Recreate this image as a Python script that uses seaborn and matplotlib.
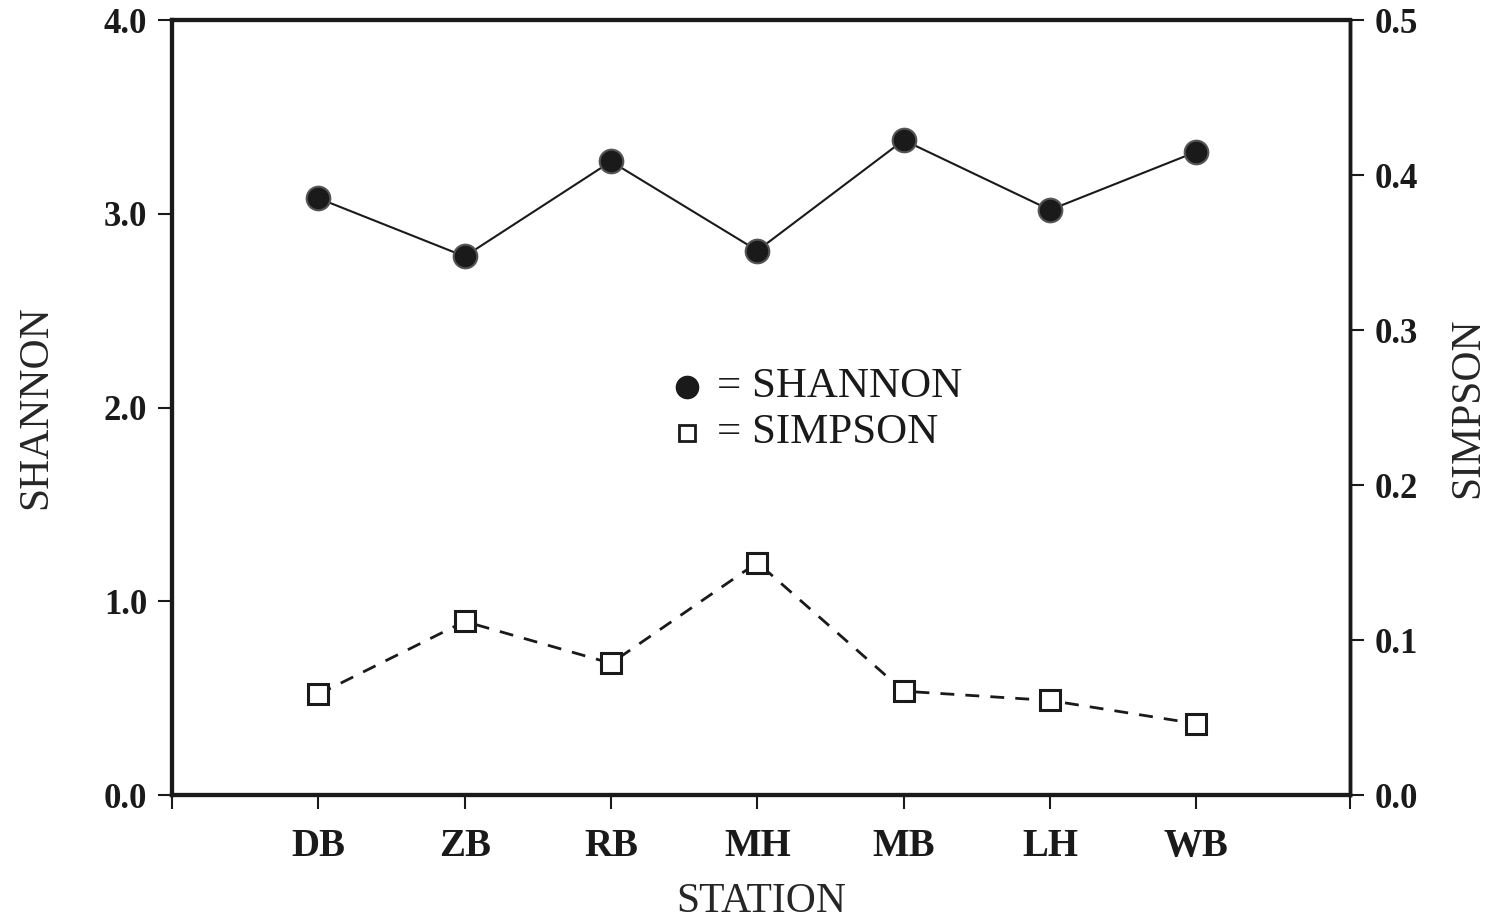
import numpy as np
import pandas as pd
import matplotlib
matplotlib.use("Agg")
import matplotlib.pyplot as plt
import seaborn as sns

stations = ["DB", "ZB", "RB", "MH", "MB", "LH", "WB"]
shannon = [3.08, 2.78, 3.27, 2.81, 3.38, 3.02, 3.32]
simpson = [0.065, 0.112, 0.085, 0.150, 0.067, 0.061, 0.046]
left_ticks = [0.0, 1.0, 2.0, 3.0, 4.0]
right_ticks = [0.0, 0.1, 0.2, 0.3, 0.4, 0.5]

sns.set_theme(style="ticks")
plt.rcParams["font.family"] = ["Liberation Serif", "DejaVu Serif"]

df = pd.DataFrame({"pos": np.arange(len(stations)), "station": stations,
                   "shannon": shannon, "simpson": simpson})

fig = plt.figure(figsize=(14.92, 9.19), dpi=100)
ax = fig.add_axes([0.1153, 0.1349, 0.7895, 0.8433])
ax2 = ax.twinx()

sns.lineplot(data=df, x="pos", y="shannon", ax=ax, color="#1a1a1a", lw=1.5,
             marker="o", markersize=17, markerfacecolor="#1a1a1a",
             markeredgecolor="#555555", markeredgewidth=1.5)
sns.lineplot(data=df, x="pos", y="simpson", ax=ax2, color="#1a1a1a", lw=2,
             marker="s", markersize=15, markerfacecolor="white",
             markeredgecolor="#1a1a1a", markeredgewidth=2.2)
ax2.lines[0].set_dashes([5, 4])

x_lo, x_hi = -1, len(stations) + 0.05
ax.set_xlim(x_lo, x_hi)
ax.set_ylim(0, 4.0)
ax2.set_ylim(0, 0.5)

ax.set_xticks([x_lo] + list(range(len(stations))) + [x_hi])
ax.set_xticklabels([""] + stations + [""], fontsize=28, fontweight="bold")
ax.set_yticks(left_ticks)
ax.set_yticklabels([f"{v:.1f}" for v in left_ticks], fontsize=25, fontweight="bold")
ax2.set_yticks(right_ticks)
ax2.set_yticklabels([f"{v:.1f}" for v in right_ticks], fontsize=25, fontweight="bold")

ax.set_xlabel("STATION", fontsize=30, labelpad=12)
ax.set_ylabel("SHANNON", fontsize=30, labelpad=35)
ax2.set_ylabel("SIMPSON", fontsize=30, labelpad=22)

for a in (ax, ax2):
    for s in a.spines.values():
        s.set_visible(True)
        s.set_color("#1a1a1a")
    a.spines["left"].set_linewidth(3)
    a.spines["bottom"].set_linewidth(3)
    a.spines["top"].set_linewidth(3)
    a.spines["right"].set_linewidth(2.5)
    a.tick_params(axis="both", direction="out", length=10, width=1.5,
                  color="#1a1a1a", labelcolor="#1a1a1a", pad=8)
ax.tick_params(axis="x", pad=14)

# in-plot key
ax.plot([0.437], [0.527], transform=ax.transAxes, marker="o", markersize=16,
        color="#1a1a1a", clip_on=False)
ax.plot([0.437], [0.467], transform=ax.transAxes, marker="s", markersize=12,
        markerfacecolor="white", markeredgecolor="#1a1a1a", markeredgewidth=2,
        clip_on=False)
ax.text(0.463, 0.527, "= SHANNON", transform=ax.transAxes, fontsize=31,
        va="center", ha="left", color="#1a1a1a")
ax.text(0.463, 0.467, "= SIMPSON", transform=ax.transAxes, fontsize=31,
        va="center", ha="left", color="#1a1a1a")

fig.savefig("out.png", dpi=100, facecolor="white")
